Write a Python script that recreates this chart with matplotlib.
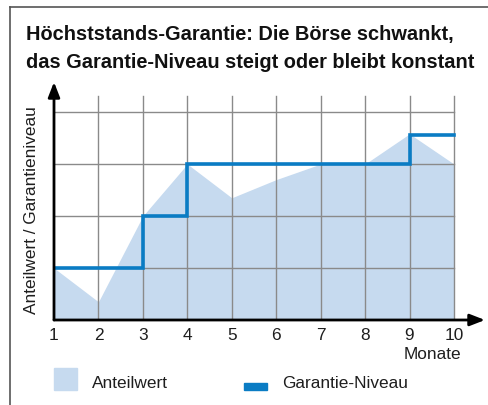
import matplotlib.pyplot as plt
import matplotlib.patches as patches
import numpy as np

plt.rcParams['font.family'] = ['Liberation Sans', 'DejaVu Sans']

# data
monate = [1, 2, 3, 4, 5, 6, 7, 8, 9, 10]
anteilwert = [1.0, 0.35, 2.0, 3.0, 2.35, 2.7, 3.0, 3.0, 3.58, 3.0]
garantie_x = [1, 3, 3, 4, 4, 9, 9, 10]
garantie_y = [1.0, 1.0, 2.0, 2.0, 3.0, 3.0, 3.56, 3.56]
y_grid = [1, 2, 3, 4]

title_lines = ["Höchststands-Garantie: Die Börse schwankt,",
               "das Garantie-Niveau steigt oder bleibt konstant"]

fill_col = '#c6daef'
line_col = '#0a7cc4'
grid_col = '#8a8a8a'
txt_col = '#1e1e1e'
fs = 12.4

W, H = 489, 406
fig = plt.figure(figsize=(W / 100, H / 100), dpi=100)

# outer frame (top and left border)
fig.add_artist(plt.Line2D([10 / W, 1], [1 - 8 / H, 1 - 8 / H], color='#555555', lw=1.2))
fig.add_artist(plt.Line2D([10 / W, 10 / W], [0, 1 - 8 / H], color='#555555', lw=1.2))

for i, line in enumerate(title_lines):
    fig.text(26 / W, 1 - (40 + 28 * i) / H, line, fontsize=14.4, fontweight='bold',
             va='baseline', ha='left', color='#111111')

# axes placement in pixels
x0, x1 = 54, 485
yb, yt = 321, 83
ax = fig.add_axes([x0 / W, 1 - yb / H, (x1 - x0) / W, (yb - yt) / H])
xmax = 1 + (x1 - x0) / 44.44
ymax = (yb - yt) / 52.0
ax.set_xlim(1, xmax)
ax.set_ylim(0, ymax)
for s in ax.spines.values():
    s.set_visible(False)

ax.fill_between(monate, anteilwert, 0, color=fill_col, lw=0, zorder=1)

# grid
for m in monate[1:]:
    ax.plot([m, m], [0, 4.3], color=grid_col, lw=1, zorder=2)
for g in y_grid:
    ax.plot([1, 10], [g, g], color=grid_col, lw=1, zorder=2)

ax.plot(garantie_x, garantie_y, color=line_col, lw=2.6, zorder=3, solid_joinstyle='miter')

# axes with arrows
ax.annotate('', xy=(xmax, 0), xytext=(1, 0),
            arrowprops=dict(arrowstyle='-|>,head_length=0.9,head_width=0.35', color='black', lw=2,
                            shrinkA=0, shrinkB=0), annotation_clip=False, zorder=4)
ax.annotate('', xy=(1, ymax), xytext=(1, 0),
            arrowprops=dict(arrowstyle='-|>,head_length=0.9,head_width=0.35', color='black', lw=2,
                            shrinkA=0, shrinkB=0), annotation_clip=False, zorder=4)

ax.set_xticks(monate)
ax.set_xticklabels([str(m) for m in monate], fontsize=fs, color=txt_col)
ax.tick_params(axis='x', length=0, pad=5)
ax.set_yticks([])

fig.text(32 / W, 1 - 210 / H, 'Anteilwert / Garantieniveau', rotation=90, fontsize=fs,
         ha='center', va='center', color=txt_col)
fig.text(461 / W, 1 - 355 / H, 'Monate', fontsize=fs, ha='right', va='center', color=txt_col)

# legend
fig.add_artist(patches.Rectangle((54 / W, 1 - 391 / H), 23 / W, 22 / H, color=fill_col,
                                 transform=fig.transFigure))
fig.text(92 / W, 1 - 384 / H, 'Anteilwert', fontsize=fs, ha='left', va='center', color=txt_col)
fig.add_artist(patches.Rectangle((244 / W, 1 - 391 / H), 23 / W, 7 / H, color=line_col,
                                 transform=fig.transFigure))
fig.text(282 / W, 1 - 384 / H, 'Garantie-Niveau', fontsize=fs, ha='left', va='center', color=txt_col)

fig.savefig('out.png', dpi=100)
